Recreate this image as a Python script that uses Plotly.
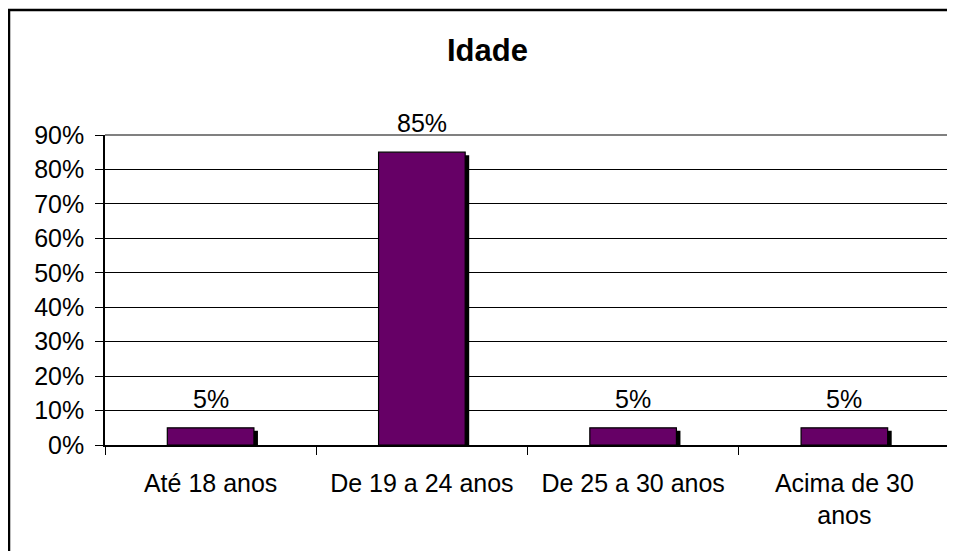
import plotly.graph_objects as go

categories = ["Até 18 anos", "De 19 a 24 anos", "De 25 a 30 anos", "Acima de 30<br>anos"]
values = [0.05, 0.85, 0.05, 0.05]
labels = ["5%", "85%", "5%", "5%"]
y_ticks = [0, 0.1, 0.2, 0.3, 0.4, 0.5, 0.6, 0.7, 0.8, 0.9]

FONT = "Liberation Sans, Arial, sans-serif"
BAR_W = 0.41
SHADOW_DX = 0.019
SHADOW_DY = 0.0087

fig = go.Figure()
fig.add_trace(go.Bar(
    x=categories, y=[v - SHADOW_DY for v in values],
    width=BAR_W, offset=-BAR_W / 2 + SHADOW_DX,
    marker=dict(color="black", line=dict(width=0)),
    hoverinfo="skip", showlegend=False,
))
fig.add_trace(go.Bar(
    x=categories, y=values,
    width=BAR_W, offset=-BAR_W / 2,
    marker=dict(color="#660066", line=dict(color="black", width=1.2)),
    showlegend=False,
))

for c, v, t in zip(categories, values, labels):
    fig.add_annotation(x=c, y=v, text=t, showarrow=False, yanchor="bottom",
                       yshift=13, font=dict(family=FONT, size=25, color="black"))

# gray plot area border (top and right)
fig.add_shape(type="path", xref="paper", yref="paper",
              path="M 0 1 L 1 1 L 1 0", line=dict(color="#808080", width=2), layer="above")
# outer chart border
fig.add_shape(type="rect", xref="paper", yref="paper",
              x0=-0.1136, x1=1.03, y0=-0.4, y1=1.403,
              line=dict(color="black", width=2.5), layer="below")

fig.update_layout(
    width=947, height=543,
    margin=dict(l=97, r=5, t=127, b=106),
    paper_bgcolor="white", plot_bgcolor="white",
    barmode="overlay",
    font=dict(family=FONT, size=25, color="black"),
    title=dict(text="<b>Idade</b>", x=0.5063, xanchor="center", y=1 - 42 / 543,
               yanchor="middle", yref="container",
               font=dict(family=FONT, size=31, color="black")),
    xaxis=dict(showline=True, linecolor="black", linewidth=1.5,
               ticks="outside", tickson="boundaries", ticklen=8, tickcolor="black",
               tickfont=dict(size=25), showgrid=False, ticklabelstandoff=15),
    yaxis=dict(range=[0, 0.9], tickvals=y_ticks, tickformat=".0%",
               showline=True, linecolor="black", linewidth=1.5,
               ticks="outside", ticklen=8, tickcolor="black",
               showgrid=True, gridcolor="black", gridwidth=1.2,
               zeroline=False, tickfont=dict(size=25), ticklabelstandoff=6),
)

fig.write_html("out.html")
